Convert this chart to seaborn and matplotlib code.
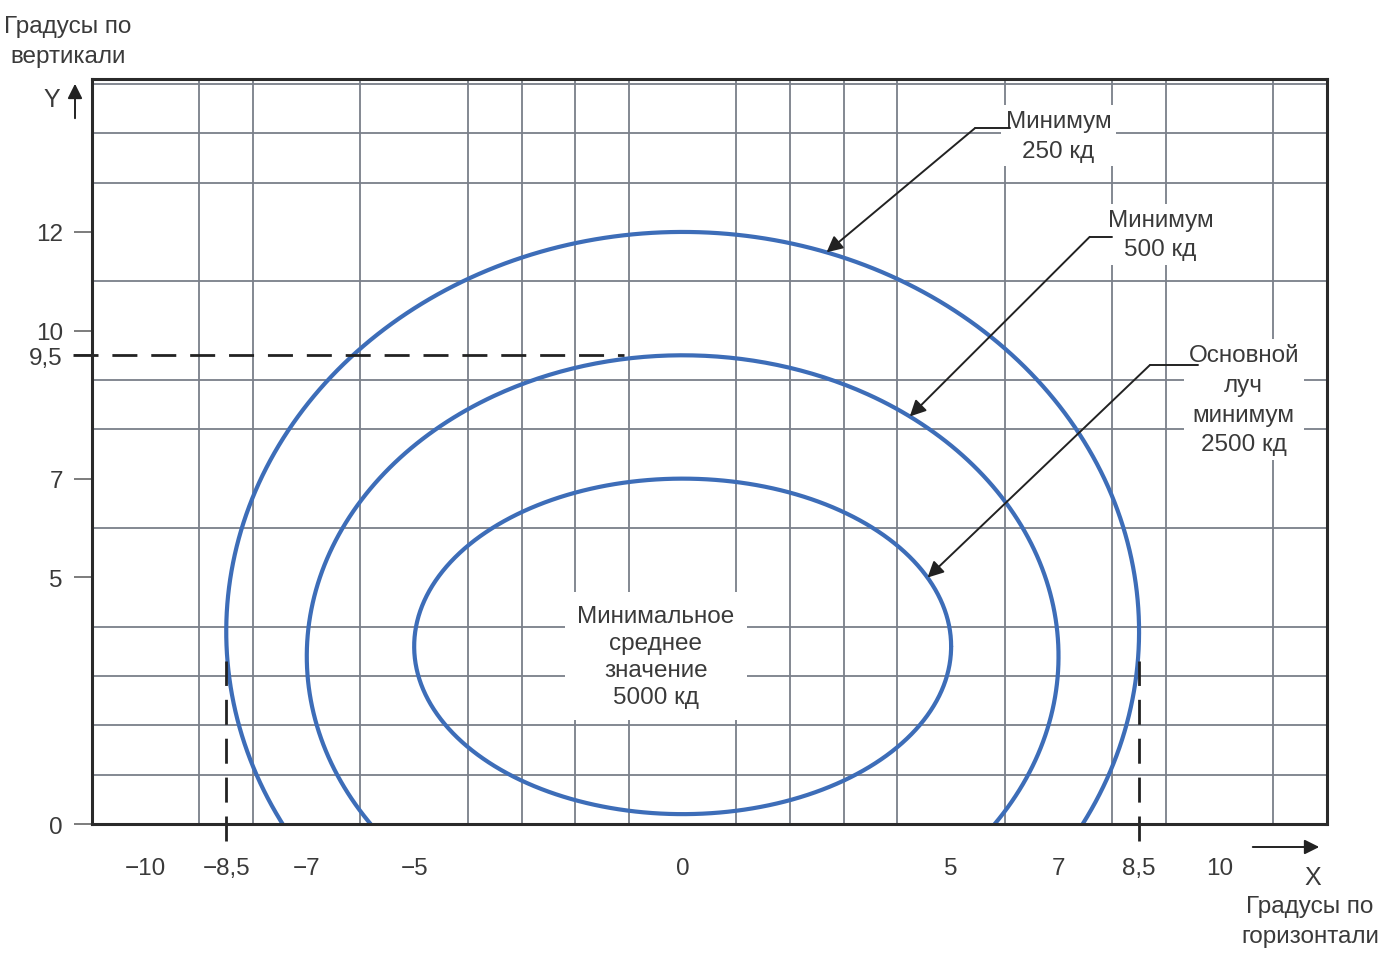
import numpy as np
import pandas as pd
import matplotlib
matplotlib.use("Agg")
import matplotlib.pyplot as plt
import seaborn as sns

# ---- data ----
contour_names = ["Минимум 250 кд", "Минимум 500 кд", "Основной луч 2500 кд"]
half_width = [8.5, 7.0, 5.0]      # horizontal half-extent (degrees)
top_y = [12.0, 9.5, 7.0]           # top of each contour (degrees)
center_y = [3.9, 3.4, 3.6]         # vertical position of widest point

x_tick_values = [-10, -8.5, -7, -5, 0, 5, 7, 8.5, 10]
x_tick_labels = ["−10", "−8,5", "−7", "−5", "0", "5", "7", "8,5", "10"]
y_tick_values = [0, 5, 7, 9.5, 10, 12]
y_tick_labels = ["0", "5", "7", "9,5", "10", "12"]

label_texts = ["Минимум\n250 кд", "Минимум\n500 кд", "Основной\nлуч\nминимум\n2500 кд"]
label_pos = [(7.0, 13.95), (8.9, 11.95), (10.45, 8.6)]
elbow_pos = [(5.44, 14.1), (7.58, 11.9), (8.7, 9.3)]
elbow_end_x = [6.1, 8.0, 9.6]
arrow_tip_x = [2.68, 4.23, 4.56]

center_text = "Минимальное\nсреднее\nзначение\n5000 кд"
center_text_pos = (-0.5, 3.4)

ref_y = 9.5        # dashed horizontal reference
ref_x = [-8.5, 8.5]  # dashed vertical references

# ---- style ----
sns.set_theme(style="white")
plt.rcParams["font.family"] = ["Liberation Sans Narrow", "Liberation Sans", "DejaVu Sans"]

BLUE = "#3d6db8"
GRID = "#7a7f89"
TXT = "#3a3a3a"
FS = 17.5

fig = plt.figure(figsize=(13.87, 9.54), dpi=100)
ax = fig.add_axes([92 / 1387, 1 - 825 / 954, (1327 - 92) / 1387, (825 - 80) / 954])

XMIN, XMAX, YMIN, YMAX = -11, 12, 0, 15.1
ax.set_xlim(XMIN, XMAX)
ax.set_ylim(YMIN, YMAX)

# grid on integer minor ticks
ax.set_xticks(np.arange(-10, 12, 1), minor=True)
ax.set_yticks(np.arange(1, 16, 1), minor=True)
ax.grid(which="minor", color=GRID, lw=1.3)
ax.grid(which="major", visible=False)
ax.tick_params(which="minor", length=0)

# ellipse contours
rows = []
for name, a, top, c in zip(contour_names, half_width, top_y, center_y):
    b = top - c
    if c / b < 1:
        t0 = -np.arcsin(c / b)
        t = np.linspace(t0, np.pi - t0, 400)
    else:
        t = np.linspace(0, 2 * np.pi, 400)
    for ti in t:
        rows.append({"contour": name, "x": a * np.cos(ti), "y": c + b * np.sin(ti)})
df = pd.DataFrame(rows)
sns.lineplot(data=df, x="x", y="y", units="contour", estimator=None, sort=False,
             color=BLUE, lw=3.0, ax=ax, legend=False, zorder=4)
ax.set_xlabel("")
ax.set_ylabel("")

# dashed references
dash = dict(color="#222222", lw=2.0, dashes=(9, 5), clip_on=False, zorder=5)
ax.plot([XMIN - 0.35, -1.1], [ref_y, ref_y], **dash)
for rx in ref_x:
    ax.plot([rx, rx], [-0.35, 3.3], **dash)

# ticks
ax.set_xticks(x_tick_values)
ax.set_xticklabels(x_tick_labels)
ax.set_yticks(y_tick_values)
ax.set_yticklabels(y_tick_labels)
ax.tick_params(axis="x", which="major", length=0, pad=24, labelsize=FS, labelcolor=TXT)
ax.tick_params(axis="y", which="major", length=13, width=1.2, color="#666666",
               direction="out", pad=8, labelsize=FS, labelcolor=TXT, left=True)
ax.tick_params(axis="x", bottom=True)

for s in ax.spines.values():
    s.set_color("#2a2a2a")
    s.set_linewidth(2.2)
    s.set_zorder(6)

# annotations with leader lines
for txt, (tx, ty), (ex, ey), hx, tipx, a, top, c in zip(
        label_texts, label_pos, elbow_pos, elbow_end_x, arrow_tip_x, half_width, top_y, center_y):
    b = top - c
    tipy = c + b * np.sqrt(1 - (tipx / a) ** 2)
    ax.text(tx, ty, txt, ha="center", va="center", fontsize=FS, color=TXT,
            linespacing=1.45, zorder=7,
            bbox=dict(boxstyle="square,pad=0.2", fc="white", ec="none"))
    ax.plot([ex, hx], [ey, ey], color="#222222", lw=1.4, zorder=8)
    ax.annotate("", xy=(tipx, tipy), xytext=(ex, ey),
                arrowprops=dict(arrowstyle="-|>", color="#222222", lw=1.4,
                                mutation_scale=24, shrinkA=0, shrinkB=0), zorder=8)

ax.text(center_text_pos[0], center_text_pos[1], center_text, ha="center", va="center",
        fontsize=FS, color=TXT, linespacing=1.3, zorder=7,
        bbox=dict(boxstyle="square,pad=0.5", fc="white", ec="none"))

# axis arrows and titles (figure coordinates)
W, H = 1387, 954
fig.text(68 / W, 1 - 42 / H, "Градусы по\nвертикали", ha="center", va="center",
         fontsize=FS, color=TXT, linespacing=1.45)
fig.text(1310 / W, 1 - 922 / H, "Градусы по\nгоризонтали", ha="center", va="center",
         fontsize=FS, color=TXT, linespacing=1.45)
fig.text(52 / W, 1 - 100 / H, "Y", ha="center", va="center", fontsize=18, color=TXT)
fig.text(1313 / W, 1 - 878 / H, "X", ha="center", va="center", fontsize=18, color=TXT)
fig.patches.append(matplotlib.patches.FancyArrowPatch(
    (75 / W, 1 - 122 / H), (75 / W, 1 - 82 / H), transform=fig.transFigure,
    arrowstyle="-|>", mutation_scale=22, color="#222222", lw=1.4))
fig.patches.append(matplotlib.patches.FancyArrowPatch(
    (1250 / W, 1 - 848 / H), (1322 / W, 1 - 848 / H), transform=fig.transFigure,
    arrowstyle="-|>", mutation_scale=22, color="#222222", lw=1.4))

fig.savefig("out.png", dpi=100, facecolor="white")
